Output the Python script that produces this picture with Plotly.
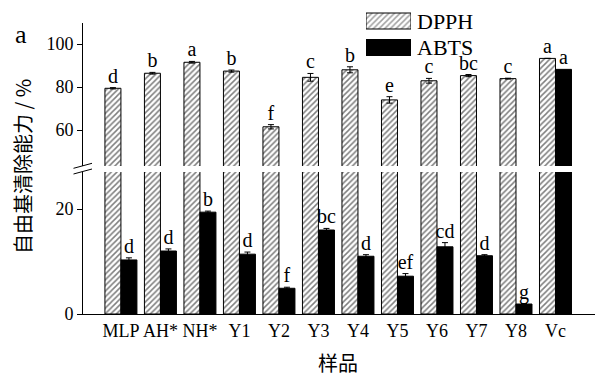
import numpy as np
import plotly.graph_objects as go

categories = ["MLP", "AH*", "NH*", "Y1", "Y2", "Y3", "Y4", "Y5", "Y6", "Y7", "Y8", "Vc"]
dpph = [79.4, 86.4, 91.5, 87.4, 61.5, 84.5, 88.0, 74.0, 82.9, 85.3, 83.9, 93.3]
dpph_err = [0.3, 0.4, 0.4, 0.5, 1.0, 1.8, 1.4, 1.5, 1.1, 0.5, 0.2, 0.0]
dpph_letters = ["d", "b", "a", "b", "f", "c", "b", "e", "c", "bc", "c", "a"]
abts = [10.3, 12.0, 19.4, 11.4, 4.9, 16.0, 11.0, 7.2, 12.8, 11.1, 1.9, 88.2]
abts_err = [0.4, 0.4, 0.2, 0.4, 0.2, 0.3, 0.3, 0.5, 0.8, 0.2, 0.1, 0.0]
abts_letters = ["d", "d", "b", "d", "f", "bc", "d", "ef", "cd", "d", "g", "a"]
legend_names = ["ABTS", "DPPH"]

SERIF = "Liberation Serif"
CJK = "Noto Sans CJK SC"
BW = 0.405
LOWER_MAX = 27.05
UPPER_MIN = 43.26

x = np.arange(len(categories))
dpph_a = np.array(dpph)
abts_a = np.array(abts)
dpph_e = np.array(dpph_err)
abts_e = np.array(abts_err)

hatch = dict(shape="/", fgcolor="black", bgcolor="white", size=4, solidity=0.38)

fig = go.Figure()
# lower panel
fig.add_trace(go.Bar(x=x, y=dpph_a, offset=-BW, width=BW, xaxis="x", yaxis="y",
                     marker=dict(color="white", pattern=hatch, line=dict(color="black", width=1)),
                     showlegend=False))
fig.add_trace(go.Bar(x=x, y=abts_a, offset=0, width=BW, xaxis="x", yaxis="y",
                     marker=dict(color="black", line=dict(color="black", width=1)),
                     error_y=dict(type="data", array=abts_e, color="black", thickness=1, width=3),
                     showlegend=False))
# upper panel
fig.add_trace(go.Bar(x=x, y=dpph_a, offset=-BW, width=BW, xaxis="x", yaxis="y2",
                     marker=dict(color="white", pattern=hatch, line=dict(color="black", width=1)),
                     error_y=dict(type="data", array=dpph_e, color="black", thickness=1, width=3),
                     showlegend=False))
fig.add_trace(go.Bar(x=x, y=abts_a, offset=0, width=BW, xaxis="x", yaxis="y2",
                     marker=dict(color="black", line=dict(color="black", width=1)),
                     showlegend=False))

# significance letters
tfont = dict(family=SERIF, size=20, color="black")
fig.add_trace(go.Scatter(x=x - BW / 2, y=dpph_a + dpph_e, mode="text", text=dpph_letters,
                         textposition="top center", textfont=tfont, xaxis="x", yaxis="y2",
                         cliponaxis=False, showlegend=False, hoverinfo="skip"))
low = abts_a < LOWER_MAX
fig.add_trace(go.Scatter(x=(x + BW / 2)[low], y=(abts_a + abts_e)[low], mode="text",
                         text=np.array(abts_letters)[low], textposition="top center",
                         textfont=tfont, xaxis="x", yaxis="y", cliponaxis=False,
                         showlegend=False, hoverinfo="skip"))
fig.add_trace(go.Scatter(x=(x + BW / 2)[~low], y=(abts_a + abts_e)[~low], mode="text",
                         text=np.array(abts_letters)[~low], textposition="top center",
                         textfont=tfont, xaxis="x", yaxis="y2", cliponaxis=False,
                         showlegend=False, hoverinfo="skip"))

# legend keys as a tiny bar subplot
fig.add_trace(go.Bar(x=[1, 1], y=legend_names, orientation="h", width=0.604,
                     xaxis="x3", yaxis="y3",
                     marker=dict(color=["black", "white"],
                                 pattern=dict(shape=["", "/"], fgcolor="black", bgcolor="white",
                                              size=4, solidity=0.38),
                                 line=dict(color="black", width=1)),
                     showlegend=False, hoverinfo="skip"))

H = 309.0
def py(p):
    return (314 - p) / H
def px(p):
    return (p - 83) / 512.0

axis_common = dict(showline=True, linecolor="black", linewidth=1, showgrid=False, zeroline=False,
                   ticks="outside", ticklen=5, tickcolor="black",
                   tickfont=dict(family=SERIF, size=18, color="black"))

fig.update_layout(
    width=596, height=378,
    margin=dict(l=83, r=1, t=5, b=64),
    paper_bgcolor="white", plot_bgcolor="white",
    barmode="group", bargap=0.19, bargroupgap=0,
    showlegend=False,
    xaxis=dict(domain=[0, 1], range=[-0.96, 12.0], tickvals=x, ticktext=categories,
               showline=True, linecolor="black", linewidth=1, showgrid=False, zeroline=False,
               ticks="", tickfont=dict(family=SERIF, size=18, color="black"), anchor="y"),
    yaxis=dict(domain=[0, py(172)], range=[0, LOWER_MAX], tickvals=[0, 20], anchor="x",
               **axis_common),
    yaxis2=dict(domain=[py(166), py(22.5)], range=[UPPER_MIN, 110], tickvals=[60, 80, 100],
                anchor="x", **axis_common),
    xaxis3=dict(domain=[px(366), px(411)], range=[0, 1], visible=False, anchor="y3"),
    yaxis3=dict(domain=[py(60.75), py(7.75)], range=[-0.5, 1.5], visible=False, anchor="x3",
                type="category", categoryorder="array", categoryarray=legend_names),
)

lfont = dict(family=SERIF, size=22, color="black")
fig.add_annotation(text="DPPH", x=px(415), y=py(21), xref="paper", yref="paper",
                   xanchor="left", yanchor="middle", showarrow=False, font=lfont)
fig.add_annotation(text="ABTS", x=px(415), y=py(47.5), xref="paper", yref="paper",
                   xanchor="left", yanchor="middle", showarrow=False, font=lfont)
fig.add_annotation(text="a", x=px(21), y=py(34), xref="paper", yref="paper",
                   xanchor="center", yanchor="middle", showarrow=False,
                   font=dict(family=SERIF, size=26, color="black"))
fig.add_annotation(text="自由基清除能力 / %", x=px(22), y=py(167), xref="paper", yref="paper",
                   xanchor="center", yanchor="middle", textangle=-90, showarrow=False,
                   font=dict(family=CJK, size=20, color="black"))
fig.add_annotation(text="样品", x=px(338), y=py(362), xref="paper", yref="paper",
                   xanchor="center", yanchor="middle", showarrow=False,
                   font=dict(family=CJK, size=20, color="black"))

# axis break marks
for dy in (0, 5.7):
    fig.add_shape(type="line", xref="paper", yref="paper",
                  x0=px(73.5), y0=py(168.3 + dy), x1=px(92), y1=py(163.3 + dy),
                  line=dict(color="black", width=1))

fig.write_html("out.html")
